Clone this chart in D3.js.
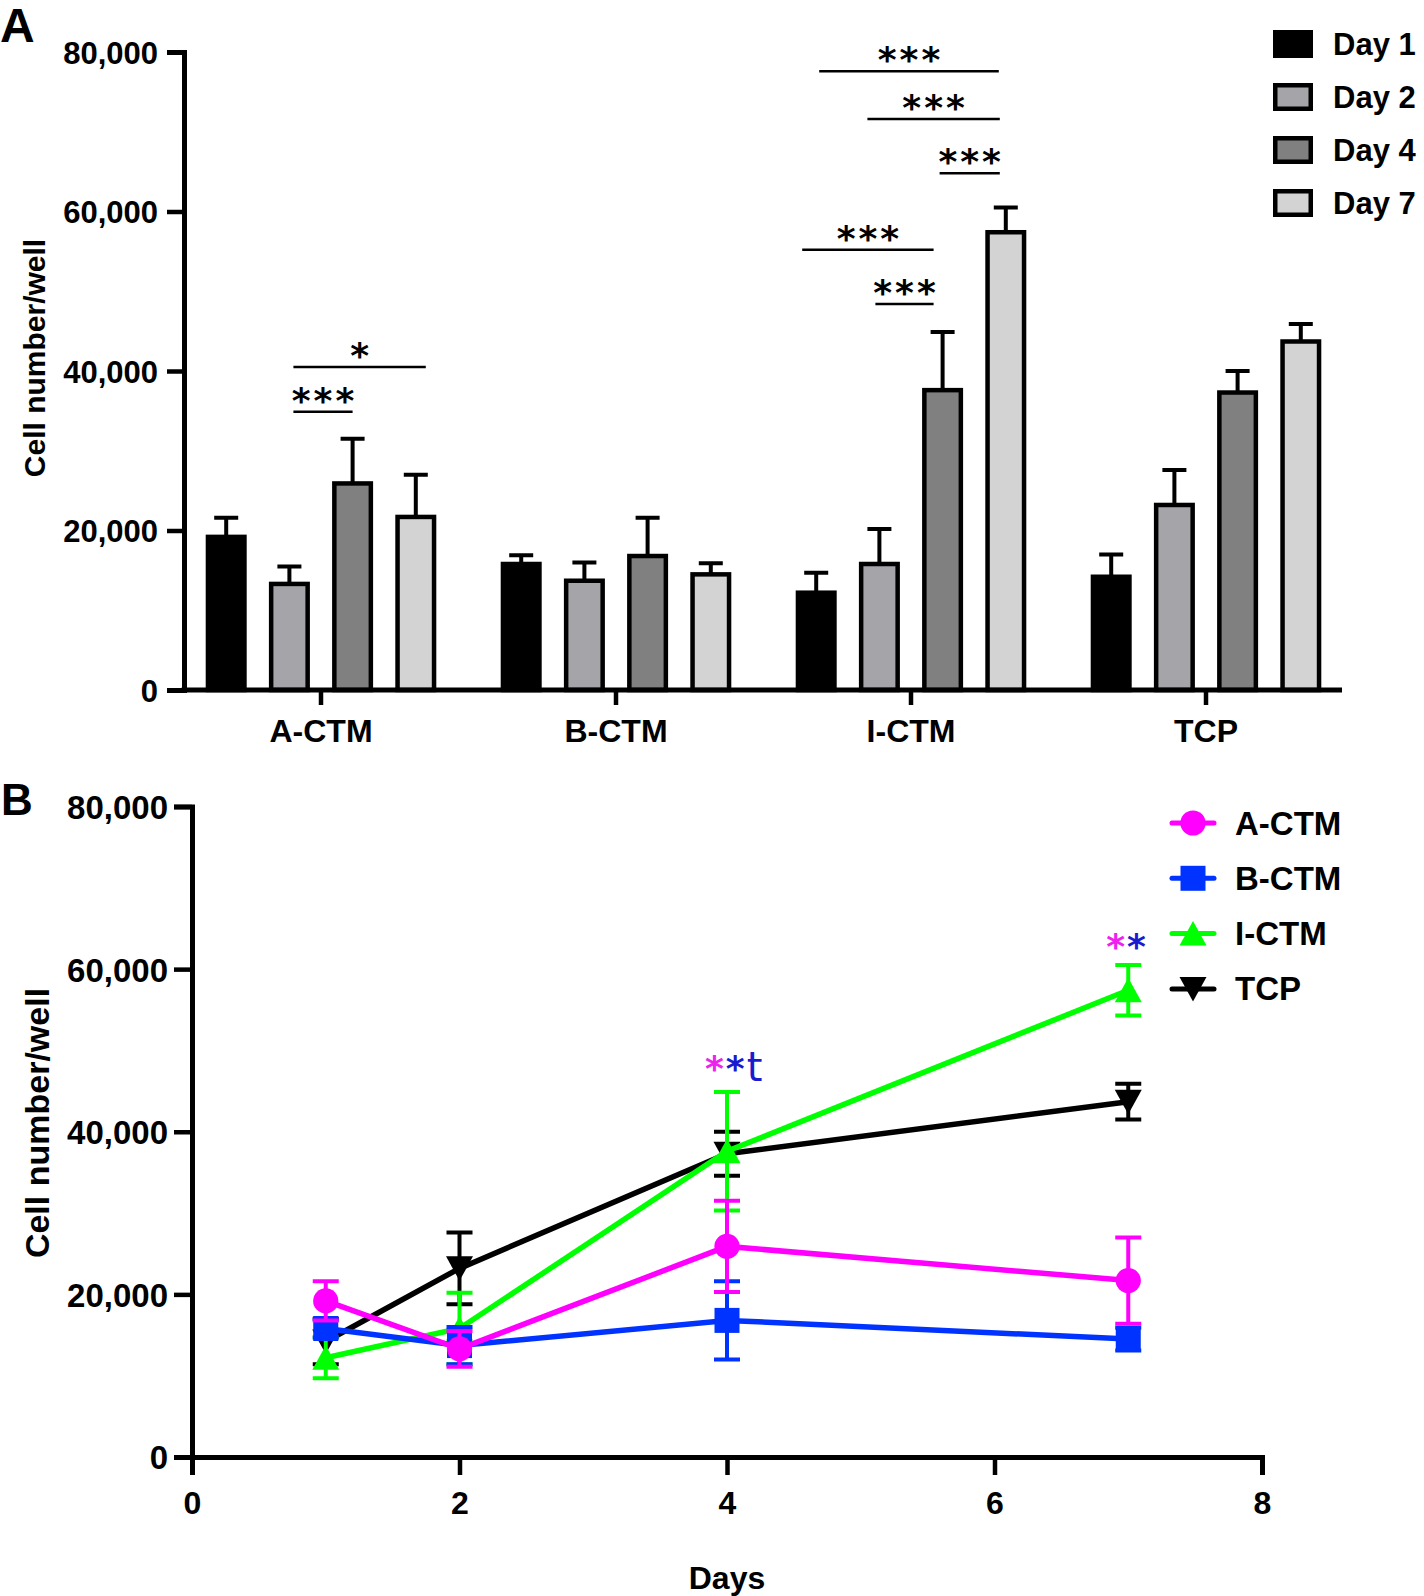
<!DOCTYPE html>
<html>
<head>
<meta charset="utf-8">
<script src="https://cdn.jsdelivr.net/npm/d3@7"></script>
<style>
  body { margin: 0; background: #fff; }
  svg text { font-family: "Liberation Sans", Arial, sans-serif; font-weight: bold; fill: #000; }
  svg .star { font-family: "DejaVu Sans", sans-serif; font-weight: bold; }
</style>
</head>
<body>
<script>
// 画布宽高
const width = 1424;
const height = 1596;

// 数据集
const groups = ['A-CTM', 'B-CTM', 'I-CTM', 'TCP'];
const days = ['Day 1', 'Day 2', 'Day 4', 'Day 7'];
const dayNums = [1, 2, 4, 7];
const aCtmMean = [19200, 13300, 25900, 21700];
const bCtmMean = [15800, 13700, 16800, 14500];
const iCtmMean = [12200, 15800, 37600, 57400];
const tcpMean = [14200, 23200, 37300, 43700];
const aCtmSd = [2400, 2200, 5600, 5300];
const bCtmSd = [1100, 2300, 4800, 1400];
const iCtmSd = [2500, 4400, 7300, 3100];
const tcpSd = [2800, 4400, 2700, 2200];
const yTicks = [0, 20000, 40000, 60000, 80000];
const xTicksB = [0, 2, 4, 6, 8];

// 显著性标记 (A): 组, 起始天, 结束天, 高度, 文字
const bracketsA = [
  ['A-CTM', 1, 2, 34900, '***'],
  ['A-CTM', 1, 3, 40500, '*'],
  ['I-CTM', 0, 3, 77600, '***'],
  ['I-CTM', 1, 3, 71600, '***'],
  ['I-CTM', 2, 3, 64800, '***'],
  ['I-CTM', 0, 2, 55200, '***'],
  ['I-CTM', 1, 2, 48400, '***']
];
// 横线两端的微调 (像素)
const bracketNudge = [[4, 0], [4, 10], [3, -7], [-12, -6], [-3, -6], [-14, -9], [-4, -9]];

// 显著性标记 (B)
const sigB = [
  { day: 4, level: 46300, marks: [['*', 'A-CTM'], ['*', 'B-CTM'], ['t', 'B-CTM']] },
  { day: 7, level: 61300, marks: [['*', 'A-CTM'], ['*', 'B-CTM']] }
];

const means = [aCtmMean, bCtmMean, iCtmMean, tcpMean];
const sds = [aCtmSd, bCtmSd, iCtmSd, tcpSd];

const dayFill = ['#000000', '#a4a4a9', '#808080', '#d3d3d3'];
const seriesColor = { 'A-CTM': '#ff00ff', 'B-CTM': '#0033ff', 'I-CTM': '#00ff00', 'TCP': '#000000' };
const sigColor = { 'A-CTM': '#ee22ee', 'B-CTM': '#1a1ad0' };
const numFmt = d3.format(',');

const svg = d3.select('body')
    .append('svg')
    .attr('width', width)
    .attr('height', height);

// ---------------- A ----------------
const yA = d3.scaleLinear().domain([0, 80000]).range([690, 52]);
const xA = d3.scaleBand().domain(groups).range([173.5, 1353.5]);
const xDay = d3.scalePoint().domain(days).range([-94.8, 94.8]);
const barW = 36.5;

const bars = [];
groups.forEach((g, gi) => {
  days.forEach((d, di) => {
    bars.push({ g: g, d: d, di: di, v: means[gi][di], sd: sds[gi][di] });
  });
});
const barX = (g, d) => xA(g) + xA.bandwidth() / 2 + xDay(d);

const gA = svg.append('g');

// 误差线
gA.selectAll('.err')
    .data(bars)
    .enter()
    .append('path')
    .attr('d', b => {
      const x = barX(b.g, b.d), y0 = yA(b.v), y1 = yA(b.v + b.sd);
      return `M${x},${y0}V${y1}M${x - 12},${y1}H${x + 12}`;
    })
    .attr('stroke', '#000')
    .attr('stroke-width', 4)
    .attr('fill', 'none');

// 矩形
gA.selectAll('.bar')
    .data(bars)
    .enter()
    .append('rect')
    .attr('x', b => barX(b.g, b.d) - barW / 2)
    .attr('y', b => yA(b.v))
    .attr('width', barW)
    .attr('height', b => yA(0) - yA(b.v))
    .attr('fill', b => dayFill[b.di])
    .attr('stroke', '#000')
    .attr('stroke-width', 4.5);

// y轴
const yAxisA = gA.append('g')
    .attr('transform', 'translate(184,0)')
    .call(d3.axisLeft(yA).tickValues(yTicks).tickFormat(numFmt).tickSizeOuter(0).tickSize(17).tickPadding(9));
yAxisA.select('.domain').attr('stroke-width', 5);
yAxisA.selectAll('.tick line').attr('stroke-width', 4.5);
yAxisA.selectAll('text').attr('font-size', 31).attr('dy', '0.36em');

// x轴
const xAxisA = gA.append('g')
    .attr('transform', 'translate(0,690)')
    .call(d3.axisBottom(xA).tickSize(15).tickSizeOuter(0));
xAxisA.select('.domain').remove();
xAxisA.selectAll('.tick line').attr('stroke-width', 4.5);
xAxisA.selectAll('text').attr('font-size', 32).attr('y', 52).attr('dy', 0);
gA.append('line')
    .attr('x1', 181.5).attr('x2', 1342)
    .attr('y1', yA(0)).attr('y2', yA(0))
    .attr('stroke', '#000').attr('stroke-width', 5);

// 显著性
bracketsA.forEach(([g, i, j, lv, lab], k) => {
  const x1 = barX(g, days[i]) + bracketNudge[k][0];
  const x2 = barX(g, days[j]) + bracketNudge[k][1];
  gA.append('line')
      .attr('x1', x1).attr('x2', x2)
      .attr('y1', yA(lv)).attr('y2', yA(lv))
      .attr('stroke', '#000').attr('stroke-width', 2.5);
  gA.append('text')
      .attr('class', 'star')
      .attr('x', (x1 + x2) / 2 + 1.5)
      .attr('y', yA(lv) + 1)
      .attr('text-anchor', 'middle')
      .attr('font-size', 36)
      .attr('letter-spacing', 3)
      .text(lab);
});

// 图例
days.forEach((d, i) => {
  const cy = 44 + i * 53;
  gA.append('rect')
      .attr('x', 1275.25).attr('y', cy - 11.75)
      .attr('width', 35.5).attr('height', 23.5)
      .attr('fill', dayFill[i]).attr('stroke', '#000').attr('stroke-width', 4.5);
  gA.append('text')
      .attr('x', 1333).attr('y', cy + 11)
      .attr('font-size', 31)
      .text(d);
});

gA.append('text')
    .attr('transform', 'translate(45,358) rotate(-90)')
    .attr('text-anchor', 'middle')
    .attr('font-size', 30)
    .text('Cell number/well');

gA.append('text').attr('x', 0).attr('y', 42).attr('font-size', 48).text('A');

// ---------------- B ----------------
const xB = d3.scaleLinear().domain([0, 8]).range([192, 1262]);
const yB = d3.scaleLinear().domain([0, 80000]).range([1457, 806.5]);
const gB = svg.append('g');

const symbolPath = {
  'A-CTM': d3.symbol(d3.symbolCircle, 500)(),
  'B-CTM': d3.symbol(d3.symbolSquare, 625)(),
  'I-CTM': 'M0,-12.5L13.5,12L-13.5,12Z',
  'TCP': 'M0,12.5L13.5,-12L-13.5,-12Z'
};

const line = d3.line().x(p => xB(p.day)).y(p => yB(p.v));

// 画线: TCP 在最下面
groups.slice().reverse().forEach(g => {
  const gi = groups.indexOf(g);
  const pts = dayNums.map((day, di) => ({ day: day, v: means[gi][di], sd: sds[gi][di] }));
  const col = seriesColor[g];
  gB.append('path')
      .datum(pts)
      .attr('d', line)
      .attr('fill', 'none')
      .attr('stroke', col)
      .attr('stroke-width', 5.5);
  gB.selectAll(null)
      .data(pts)
      .enter()
      .append('path')
      .attr('d', p => {
        const x = xB(p.day), y0 = yB(p.v - p.sd), y1 = yB(p.v + p.sd);
        return `M${x},${y0}V${y1}M${x - 13},${y1}H${x + 13}M${x - 13},${y0}H${x + 13}`;
      })
      .attr('fill', 'none')
      .attr('stroke', col)
      .attr('stroke-width', 4);
  gB.selectAll(null)
      .data(pts)
      .enter()
      .append('path')
      .attr('transform', p => `translate(${xB(p.day)},${yB(p.v)})`)
      .attr('d', symbolPath[g])
      .attr('fill', col);
});

// 坐标轴
const yAxisB = gB.append('g')
    .attr('transform', 'translate(192,0)')
    .call(d3.axisLeft(yB).tickValues(yTicks).tickFormat(numFmt).tickSizeOuter(0).tickSize(18).tickPadding(6));
yAxisB.select('.domain').attr('stroke-width', 5);
yAxisB.selectAll('.tick line').attr('stroke-width', 4.5);
yAxisB.selectAll('text').attr('font-size', 33).attr('dy', '0.36em');

const xAxisB = gB.append('g')
    .attr('transform', 'translate(0,1457)')
    .call(d3.axisBottom(xB).tickValues(xTicksB).tickSizeOuter(0).tickSize(18));
xAxisB.select('.domain').attr('stroke-width', 5);
xAxisB.selectAll('.tick line').attr('stroke-width', 4.5);
xAxisB.selectAll('text').attr('font-size', 32).attr('y', 57).attr('dy', 0);

// 显著性
sigB.forEach(s => {
  const t = gB.append('text')
      .attr('class', 'star')
      .attr('x', xB(s.day) - 22)
      .attr('y', yB(s.level))
      .attr('font-size', 36)
      .attr('letter-spacing', 2);
  s.marks.forEach(([ch, ref]) => {
    t.append('tspan')
        .attr('fill', sigColor[ref])
        .attr('font-weight', ch === 't' ? 'normal' : 'bold')
        .attr('font-size', ch === 't' ? 40 : 36)
        .text(ch);
  });
});

// 图例
groups.forEach((g, i) => {
  const cy = 823 + i * 55.3;
  const col = seriesColor[g];
  gB.append('line')
      .attr('x1', 1172).attr('x2', 1214)
      .attr('y1', cy).attr('y2', cy)
      .attr('stroke', col).attr('stroke-width', 5).attr('stroke-linecap', 'round');
  gB.append('path')
      .attr('transform', `translate(1193,${cy})`)
      .attr('d', symbolPath[g])
      .attr('fill', col);
  gB.append('text')
      .attr('x', 1235).attr('y', cy + 11.5)
      .attr('font-size', 33)
      .text(g);
});

gB.append('text')
    .attr('transform', 'translate(49,1123) rotate(-90)')
    .attr('text-anchor', 'middle')
    .attr('font-size', 34)
    .text('Cell number/well');

gB.append('text')
    .attr('x', xB(4))
    .attr('y', 1589)
    .attr('text-anchor', 'middle')
    .attr('font-size', 32)
    .text('Days');

gB.append('text').attr('x', 1).attr('y', 815).attr('font-size', 44).text('B');
</script>
</body>
</html>
